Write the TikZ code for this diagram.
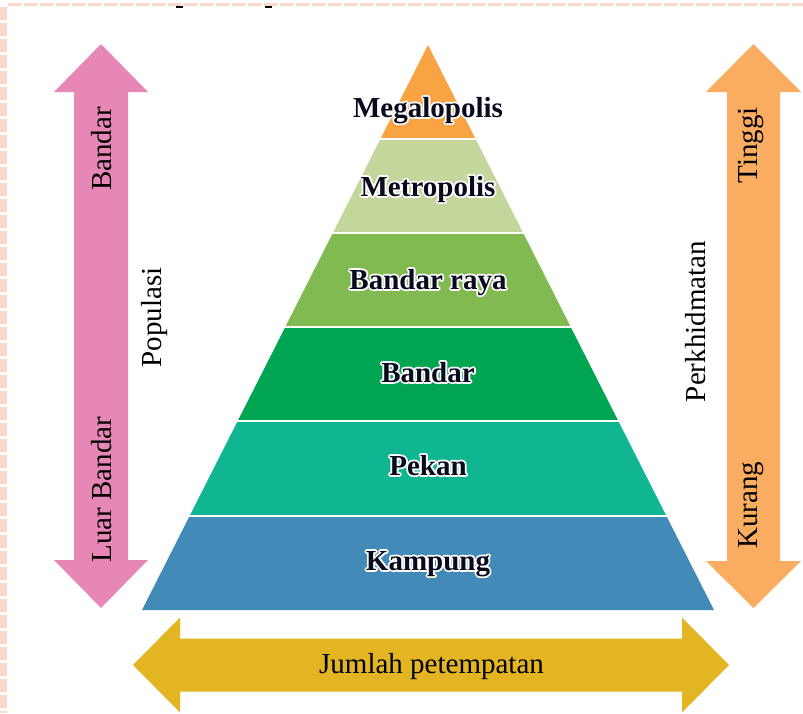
\documentclass[tikz,border=0pt]{standalone}
\usepackage{fontspec}
\setmainfont{Liberation Serif}
\usetikzlibrary{calc}
\definecolor{cMega}{HTML}{F9A443}
\definecolor{cMetro}{HTML}{C3D69B}
\definecolor{cRaya}{HTML}{82BA52}
\definecolor{cBandar}{HTML}{00A551}
\definecolor{cPekan}{HTML}{10B592}
\definecolor{cKampung}{HTML}{428BB9}
\definecolor{cPink}{HTML}{E687B5}
\definecolor{cOrange}{HTML}{FAAC60}
\definecolor{cYellow}{HTML}{E3B523}
\definecolor{cBorder}{HTML}{F9D9CC}
\definecolor{cInk}{HTML}{0A0A1E}
\tikzset{
  lbl/.style={font=\fontsize{29}{32}\selectfont\bfseries, text=cInk, inner sep=0pt, anchor=base},
  sidetext/.style={font=\fontsize{29}{32}\selectfont, text=black, inner sep=0pt, anchor=base},
  vert/.style={sidetext, rotate=90},
  sepline/.style={draw=white, line width=2pt},
  bordline/.style={draw=cBorder, dash pattern=on 13pt off 3pt},
}
% white outline drawn as stroked text beneath the normal text
\newcommand\halolabel[3]{%
  \node[lbl, text=white] at (#2) {\special{pdf:literal direct 1 Tr 3.6 w 1 j 1 1 1 RG}#3\special{pdf:literal direct 0 Tr}};
  \node[lbl] (#1) at (#2) {#3};
}
\begin{document}
\begin{tikzpicture}[x=1pt,y=-1pt]
\useasboundingbox (0,0) rectangle (803,713);
\fill[white] (0,0) rectangle (803,713);
% border
\draw[bordline, line width=3pt] (8,4.5) -- (803,4.5);
\draw[bordline, line width=7pt] (3.5,7) -- (3.5,713);
\draw[line width=2pt, black] (176,6.5) -- (183,6.5);
\draw[line width=2pt, black] (265,6.5) -- (272,6.5);
% pyramid
\coordinate (apex) at (428,45);
\fill[cMega] (apex) -- (475.6,139) -- (380.4,139) -- cycle;
\fill[cMetro] (380.4,139) -- (475.6,139) -- (523.2,233) -- (332.8,233) -- cycle;
\fill[cRaya] (332.8,233) -- (523.2,233) -- (570.7,327) -- (285.3,327) -- cycle;
\fill[cBandar] (285.3,327) -- (570.7,327) -- (618.3,421) -- (237.7,421) -- cycle;
\fill[cPekan] (237.7,421) -- (618.3,421) -- (666.4,516) -- (189.6,516) -- cycle;
\fill[cKampung] (189.6,516) -- (666.4,516) -- (714,610) -- (142,610) -- cycle;
\foreach \yy in {139,233,327,421,516} {\draw[sepline] (130,\yy) -- (726,\yy);}
% side arrows
\fill[cPink] (101,44) -- (148,92) -- (128,92) -- (128,560) -- (148,560) -- (101,608)
  -- (54,560) -- (74,560) -- (74,92) -- (54,92) -- cycle;
\fill[cOrange] (753.5,44) -- (801,92) -- (780,92) -- (780,561) -- (801,561) -- (753.5,608)
  -- (706,561) -- (727,561) -- (727,92) -- (706,92) -- cycle;
\fill[cYellow] (133,665) -- (180,617.5) -- (180,638.5) -- (682,638.5) -- (682,617.5) -- (729,665)
  -- (682,712.5) -- (682,691.5) -- (180,691.5) -- (180,712.5) -- cycle;
% layer labels
\halolabel{mega}{428,117}{Megalopolis}
\halolabel{metro}{428,196}{Metropolis}
\halolabel{raya}{428,289}{Bandar raya}
\halolabel{bandar}{428,382}{Bandar}
\halolabel{pekan}{428,475}{Pekan}
\halolabel{kampung}{428,570}{Kampung}
% side labels
\node[vert] (bandarL) at (111,149) {Bandar};
\node[vert] (luar) at (111,489.5) {Luar Bandar};
\node[vert] (populasi) at (161,317.5) {Populasi};
\node[vert] (perkh) at (705,321.5) {Perkhidmatan};
\node[vert] (tinggi) at (757,145.5) {Tinggi};
\node[vert] (kurang) at (757,505) {Kurang};
\node[sidetext] (jumlah) at (431.5,673) {Jumlah petempatan};
\end{tikzpicture}
\end{document}
